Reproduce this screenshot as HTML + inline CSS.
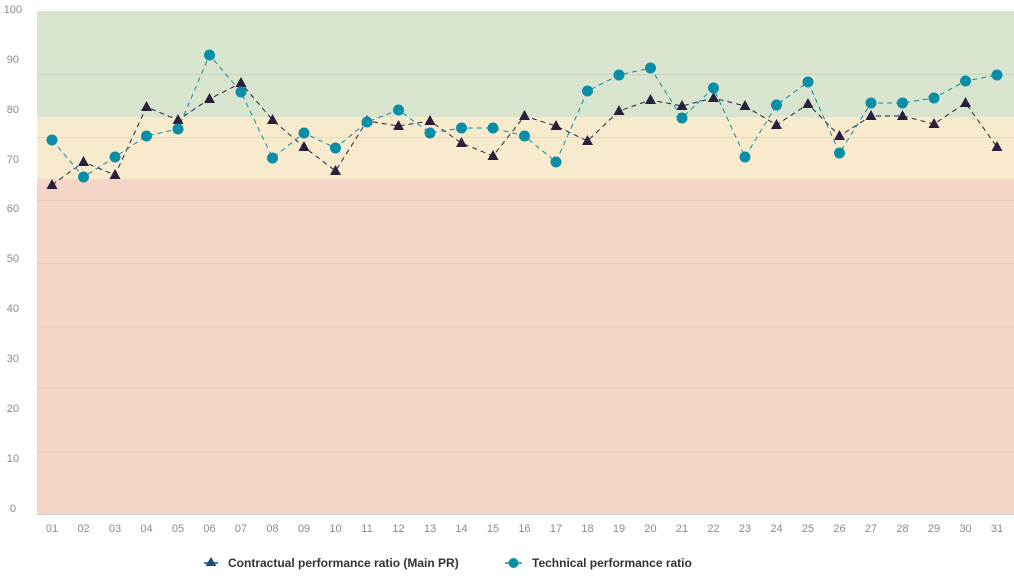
<!DOCTYPE html><html><head><meta charset="utf-8"><style>body{margin:0;background:#fff;}svg{display:block;font-family:"Liberation Sans",sans-serif}</style></head><body>
<svg id="s" width="1014" height="584" xmlns="http://www.w3.org/2000/svg">
<rect x="37" y="11" width="977" height="106" fill="#d9e4cf"/>
<rect x="37" y="117" width="977" height="62" fill="#f8ebcd"/>
<rect x="37" y="179" width="977" height="335" fill="#f5d5c8"/>
<g stroke="#000" stroke-opacity="0.07" stroke-width="1">
<line x1="37" x2="1014" y1="74.5" y2="74.5"/><line x1="37" x2="1014" y1="137.5" y2="137.5"/><line x1="37" x2="1014" y1="200.5" y2="200.5"/><line x1="37" x2="1014" y1="263.5" y2="263.5"/><line x1="37" x2="1014" y1="326.5" y2="326.5"/><line x1="37" x2="1014" y1="388.5" y2="388.5"/><line x1="37" x2="1014" y1="451.5" y2="451.5"/>
</g>
<line x1="37" x2="1014" y1="514.5" y2="514.5" stroke="#c8ccd0"/>
<g font-size="11" fill="#8a8a8a" text-anchor="end">
<text x="22" y="13">100</text><text x="19" y="63">90</text><text x="19" y="113">80</text><text x="19" y="163">70</text><text x="19" y="212">60</text><text x="19" y="262">50</text><text x="19" y="312">40</text><text x="19" y="362">30</text><text x="19" y="412">20</text><text x="19" y="462">10</text><text x="16" y="512">0</text>
</g>
<g id="xl" font-size="11" fill="#8a8a8a" text-anchor="middle"></g>
<g id="d"></g>
<g font-size="12" font-weight="bold" fill="#333">
<line x1="204" x2="218" y1="563" y2="563" stroke="#1f4e79" stroke-width="1.5"/>
<polygon points="211,557 216.5,566 205.5,566" fill="#1f4e79"/>
<text x="228" y="567">Contractual performance ratio (Main PR)</text>
<line x1="505" x2="522" y1="563" y2="563" stroke="#0a8ea8" stroke-width="1.5"/>
<circle cx="513.5" cy="563" r="5" fill="#0a8ea8"/>
<text x="532" y="567">Technical performance ratio</text>
</g>
</svg>
<script>
var T=[185,162,175,107,120,99,83,120,147,171,121,126,121,143,156,116,126,141,111,100,106,98,106,125,104,136,116,116,124,103,147];
var C=[140,177,157,136,129,55,92,158,133,148,122,110,133,128,128,136,162,91,75,68,118,88,157,105,82,153,103,103,98,81,75];
var X=i=>52+i*31.5,ns="http://www.w3.org/2000/svg",h="";
var xl="";for(var i=0;i<31;i++){xl+='<text x="'+X(i)+'" y="532">'+String(i+1).padStart(2,"0")+'</text>';}
document.getElementById("xl").innerHTML=xl;
h+='<polyline fill="none" stroke="#2a1f3d" stroke-width="1" stroke-dasharray="5,4" points="'+T.map((y,i)=>X(i)+","+y).join(" ")+'"/>';
h+='<polyline fill="none" stroke="#0a8ea8" stroke-width="1" stroke-dasharray="5,4" points="'+C.map((y,i)=>X(i)+","+y).join(" ")+'"/>';
T.forEach((y,i)=>{var x=X(i);h+='<polygon fill="#2a1f3d" points="'+x+','+(y-6)+' '+(x+5.5)+','+(y+4)+' '+(x-5.5)+','+(y+4)+'"/>';});
C.forEach((y,i)=>{h+='<circle fill="#0a8ea8" cx="'+X(i)+'" cy="'+y+'" r="5.5"/>';});
document.getElementById("d").innerHTML=h;
</script>
</body></html>
